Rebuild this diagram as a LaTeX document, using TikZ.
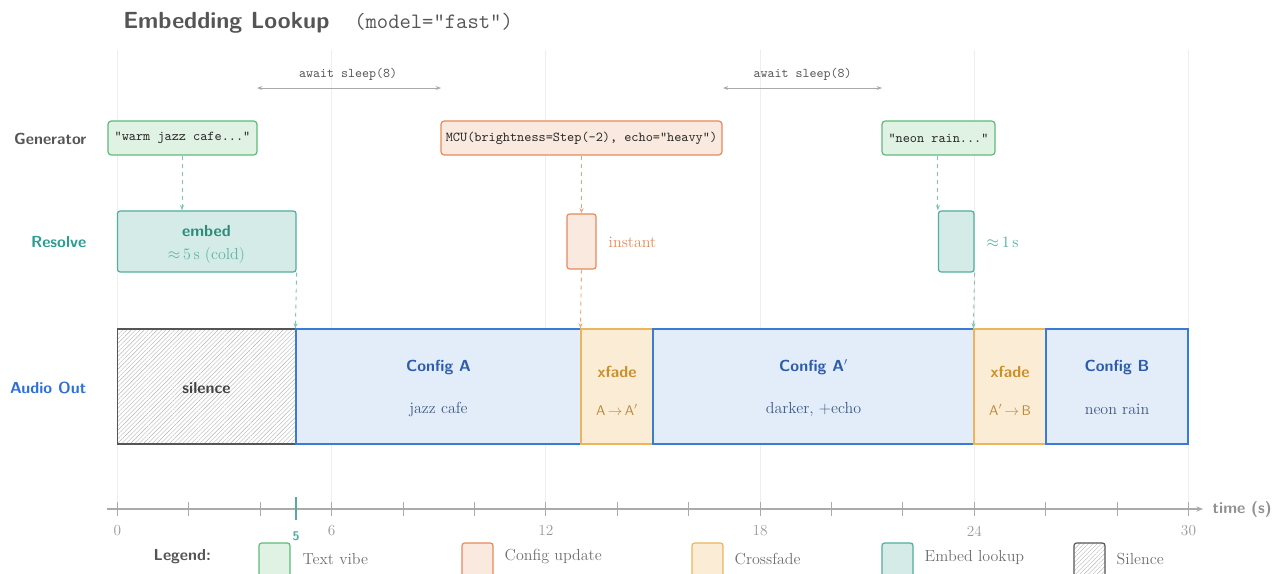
\documentclass[tikz,border=0pt]{standalone}
\usetikzlibrary{arrows.meta,patterns.meta,fit}
\definecolor{grnF}{HTML}{E0F2E4}
\definecolor{grnD}{HTML}{5DBB7A}
\definecolor{orgF}{HTML}{F9E9DF}
\definecolor{orgD}{HTML}{E8895A}
\definecolor{orgL}{HTML}{EEA57D}
\definecolor{tlF}{HTML}{D4EBE7}
\definecolor{tlD}{HTML}{4FAE9E}
\definecolor{tlT}{HTML}{2A8C7A}
\definecolor{tlL}{HTML}{5DB5A5}
\definecolor{tlA}{HTML}{7CC7BB}
\definecolor{bluF}{HTML}{E3EDF9}
\definecolor{bluD}{HTML}{3A7BD5}
\definecolor{bluT}{HTML}{2D5DAA}
\definecolor{bluS}{HTML}{3F5A85}
\definecolor{xfF}{HTML}{FAECD5}
\definecolor{xfD}{HTML}{EDB45E}
\definecolor{xfT}{HTML}{C98F2B}
\definecolor{xfS}{HTML}{B88A3A}
\definecolor{dkG}{HTML}{555555}
\definecolor{resC}{HTML}{2A9D8F}
\definecolor{audC}{HTML}{2F6FD8}
\definecolor{gridC}{HTML}{EEEEEE}
\definecolor{axC}{HTML}{AAAAAA}
\tikzset{
  fbox/.style={inner sep=0pt, line width=0.9pt},
  genG/.style={fbox, draw=grnD, fill=grnF, rounded corners=2.5pt},
  genO/.style={fbox, draw=orgD, fill=orgF, rounded corners=2.5pt},
  resT/.style={fbox, draw=tlD, fill=tlF, rounded corners=2pt},
  resO/.style={fbox, draw=orgD, fill=orgF, rounded corners=2pt},
  audB/.style={fbox, draw=bluD, fill=bluF, line width=0.9pt},
  audX/.style={fbox, draw=xfD, fill=xfF, line width=0.9pt},
  hatch/.style={pattern={Lines[angle=45,distance=2.3pt,line width=0.3pt]}, pattern color=gray!60},
  audS/.style={fbox, draw=dkG, line width=0.9pt, hatch},
  rowlab/.style={anchor=east, font=\sffamily\bfseries\fontsize{12}{14}\selectfont},
  code/.style={font=\ttfamily\fontsize{10.2}{12}\selectfont, text=black!85},
  big/.style={font=\sffamily\bfseries\fontsize{12}{14}\selectfont},
  sub/.style={font=\rmfamily\fontsize{12}{14}\selectfont},
  dashT/.style={dashed, tlA, line width=0.7pt, -{Stealth[length=4pt,width=3pt]}},
  dashO/.style={dashed, orgL, line width=0.7pt, -{Stealth[length=4pt,width=3pt]}},
  waitarr/.style={axC, line width=0.7pt, {Stealth[length=4pt,width=3pt]}-{Stealth[length=4pt,width=3pt]}},
  waitlab/.style={font=\ttfamily\fontsize{10}{12}\selectfont, text=dkG},
  axlab/.style={anchor=north, font=\rmfamily\fontsize{11.5}{13}\selectfont, text=axC!90!black},
  legbox/.style={inner sep=0pt, line width=0.9pt, rounded corners=2pt},
  legtext/.style={anchor=west, font=\rmfamily\fontsize{12}{14}\selectfont, text=dkG!85}
}
\begin{document}
\begin{tikzpicture}[x=0.75pt,y=-0.75pt]
\useasboundingbox (0,0) rectangle (1272,574);
% grid
\foreach \t in {0,6,12,18,24,30}
  \draw[gridC, line width=0.7pt] ({117.5+35.7*\t},50) -- ({117.5+35.7*\t},510);
% title
\node[anchor=base west, font=\sffamily\bfseries\fontsize{17.5}{20}\selectfont, text=dkG, inner sep=0] (title) at (123,29) {Embedding Lookup};
\node[anchor=base west, font=\ttfamily\fontsize{16.5}{20}\selectfont, text=dkG, inner sep=0] (titlem) at (354,29) {(model="fast")};
% row labels
\node[rowlab, text=dkG] (lgen) at (91,139) {Generator};
\node[rowlab, text=resC] (lres) at (91,242) {Resolve};
\node[rowlab, text=audC] (laud) at (91,388) {Audio Out};
% await arrows
\coordinate (w1a) at (257,88); \coordinate (w1b) at (441,88);
\draw[waitarr] (w1a) -- (w1b);
\node[waitlab] (w1l) at (348,74) {await sleep(8)};
\coordinate (w2a) at (723,88); \coordinate (w2b) at (882,88);
\draw[waitarr] (w2a) -- (w2b);
\node[waitlab] (w2l) at (802.5,74) {await sleep(8)};
% generator boxes
\node[genG, fit={(108,121) (257,155)}] (g1) {};
\node[code] at (g1.center) {"warm jazz cafe..."};
\node[genO, fit={(441,121) (722,155)}] (g2) {};
\node[code] at (g2.center) {MCU(brightness=Step(-2), echo="heavy")};
\node[genG, fit={(882,121) (995,155)}] (g3) {};
\node[code] at (g3.center) {"neon rain..."};
% resolve boxes
\node[resT, fit={(117.5,211) (296,272)}] (r1) {};
\node[big, text=tlT] (r1a) at (206.5,231) {embed};
\node[sub, text=tlL] (r1b) at (206.5,256) {$\approx$\,5\,s (cold)};
\node[resO, fit={(567,214) (596,269)}] (r2) {};
\node[sub, text=orgD, anchor=west] (r2l) at (604,242) {instant};
\node[resT, fit={(938.5,211) (974,272)}] (r3) {};
\node[sub, text=tlD, anchor=west] (r3l) at (982,242) {$\approx$\,1\,s};
% audio boxes
\node[audS, fit={(117.5,329) (296,444)}] (a0) {};
\node[big, text=dkG!80!black] at (206.5,388) {silence};
\node[audB, fit={(296,329) (581,444)}] (a1) {};
\node[big, text=bluT] at (438.5,367) {Config A};
\node[sub, text=bluS] at (438.5,409) {jazz cafe};
\node[audX, fit={(581,329) (653,444)}] (a2) {};
\node[big, text=xfT] at (617,372) {xfade};
\node[font=\sffamily\fontsize{10.5}{12}\selectfont, text=xfS] at (617,410) {A\,$\to$\,A$'$};
\node[audB, fit={(653,329) (974,444)}] (a3) {};
\node[big, text=bluT] at (813.5,367) {Config A$'$};
\node[sub, text=bluS] at (813.5,409) {darker, +echo};
\node[audX, fit={(974,329) (1046,444)}] (a4) {};
\node[big, text=xfT] at (1010,372) {xfade};
\node[font=\sffamily\fontsize{10.5}{12}\selectfont, text=xfS] at (1010,410) {A$'$\,$\to$\,B};
\node[audB, fit={(1046,329) (1188,444)}] (a5) {};
\node[big, text=bluT] at (1117,367) {Config B};
\node[sub, text=bluS] at (1117,409) {neon rain};
% dashed connectors
\draw[dashT] (g1.south -| 182,0) -- (r1.north -| 182,0);
\draw[dashT] (r1.south east) -- (a1.north west);
\draw[dashO] (g2.south -| r2.north) -- (r2.north);
\draw[dashO] (r2.south) -- (a2.north west);
\draw[dashT] (g3.south -| r3.north west) -- (r3.north west);
\draw[dashT] (r3.south east) -- (a4.north west);
% axis
\coordinate (ax0) at (107,509); \coordinate (ax1) at (1203,509);
\draw[axC, line width=0.8pt, -{Stealth[length=5pt,width=4pt]}] (ax0) -- (ax1);
\node[anchor=west, font=\sffamily\bfseries\fontsize{12}{14}\selectfont, text=axC!85!black] (tl) at (1208,509) {time (s)};
\foreach \t in {0,2,...,30}
  \draw[axC, line width=0.7pt] ({117.5+35.7*\t},502) -- ({117.5+35.7*\t},516);
\foreach \t in {0,6,12,18,24,30}
  \node[axlab] at ({117.5+35.7*\t},521) {\t};
\draw[tlD, line width=1.1pt] (296,497) -- (296,520);
\node[font=\sffamily\bfseries\fontsize{9.5}{11}\selectfont, text=tlD] (five) at (296,536) {5};
% legend
\node[anchor=west, font=\sffamily\bfseries\fontsize{12}{14}\selectfont, text=dkG] (leg) at (149,557) {Legend:};
\node[legbox, draw=grnD, fill=grnF, fit={(259,543) (290,577)}] (lg1) {};
\node[legtext] at (298,559) {Text vibe};
\node[legbox, draw=orgD, fill=orgF, fit={(462,543) (493,577)}] (lg2) {};
\node[legtext] at (500,557) {Config update};
\node[legbox, draw=xfD, fill=xfF, fit={(692,543) (723,577)}] (lg3) {};
\node[legtext] at (730,559) {Crossfade};
\node[legbox, draw=tlD, fill=tlF, fit={(882,543) (913,577)}] (lg4) {};
\node[legtext] at (920,557) {Embed lookup};
\node[legbox, draw=dkG, hatch, fit={(1074,543) (1105,577)}] (lg5) {};
\node[legtext] at (1112,559) {Silence};
\end{tikzpicture}
\end{document}
